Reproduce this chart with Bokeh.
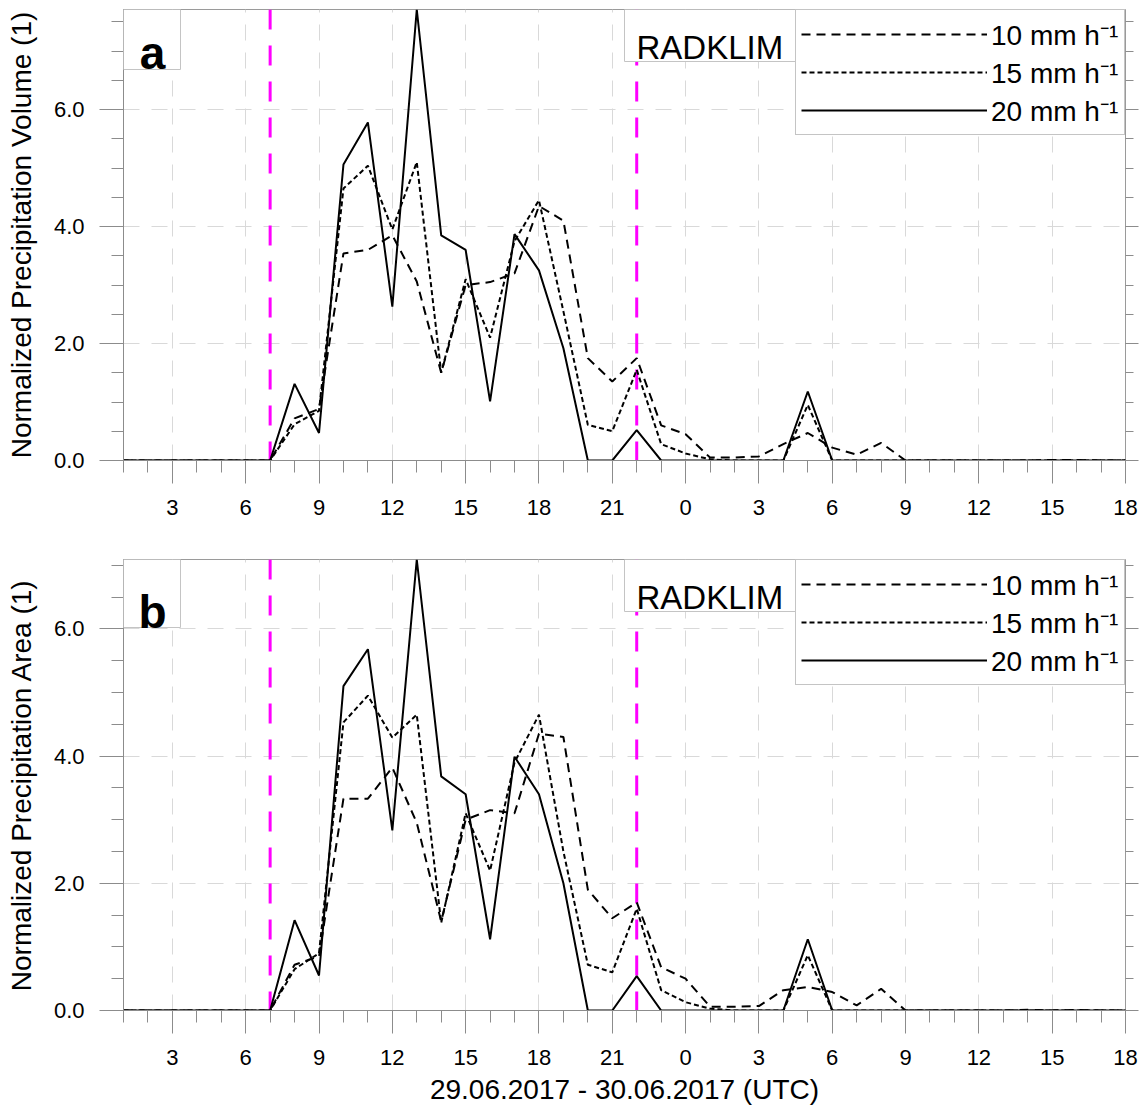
from bokeh.plotting import figure
from bokeh.models import (Range1d, FixedTicker, SingleIntervalTicker, LinearAxis, Span,
                          BoxAnnotation, Label, Legend, LegendItem, CustomJSTickFormatter,
                          PrintfTickFormatter)
from bokeh.layouts import column
from bokeh.embed import file_html
from bokeh.resources import INLINE

# ---------------- data ----------------
hours = list(range(1, 43))  # hours since 29.06.2017 00 UTC (24 = 30.06. 00 UTC)
tick_hours = [3, 6, 9, 12, 15, 18, 21, 24, 27, 30, 33, 36, 39, 42]
tick_labels = ["3", "6", "9", "12", "15", "18", "21", "0", "3", "6", "9", "12", "15", "18"]
event_hours = [7, 22]
series_names = ["10 mm h\u207b\u00b9", "15 mm h\u207b\u00b9", "20 mm h\u207b\u00b9"]
panel_letters = ["a", "b"]
panel_ylabels = ["Normalized Precipitation Volume (1)", "Normalized Precipitation Area (1)"]
source_name = "RADKLIM"
x_title = "29.06.2017 - 30.06.2017 (UTC)"

vol_10 = [0, 0, 0, 0, 0, 0, 0,
          0.72, 0.88, 3.54, 3.60, 3.85, 3.06, 1.50, 3.00, 3.05, 3.20, 4.35, 4.10, 1.75, 1.35, 1.75,
          0.60, 0.45, 0.05, 0.05, 0.07, 0.28, 0.47, 0.22, 0.10, 0.30, 0,
          0, 0, 0, 0, 0, 0.01, 0.01, 0, 0]
vol_15 = [0, 0, 0, 0, 0, 0, 0,
          0.62, 0.85, 4.65, 5.04, 3.95, 5.10, 1.50, 3.10, 2.10, 3.75, 4.45, 2.55, 0.61, 0.50, 1.55,
          0.28, 0.12, 0.02, 0, 0, 0, 0.95, 0, 0, 0, 0,
          0, 0, 0, 0, 0, 0, 0, 0, 0]
vol_20 = [0, 0, 0, 0, 0, 0, 0,
          1.31, 0.47, 5.06, 5.78, 2.63, 7.71, 3.85, 3.60, 1.01, 3.87, 3.25, 1.92, 0, 0, 0.52,
          0, 0, 0, 0, 0, 0, 1.18, 0, 0, 0, 0,
          0, 0, 0, 0, 0, 0, 0, 0, 0]

area_10 = [0, 0, 0, 0, 0, 0, 0,
           0.72, 0.85, 3.33, 3.33, 3.82, 2.95, 1.40, 3.00, 3.15, 3.10, 4.35, 4.30, 1.90, 1.45, 1.70,
           0.68, 0.50, 0.06, 0.06, 0.07, 0.32, 0.37, 0.29, 0.08, 0.34, 0,
           0, 0, 0, 0, 0.01, 0, 0.01, 0, 0]
area_15 = [0, 0, 0, 0, 0, 0, 0,
           0.65, 0.90, 4.53, 4.95, 4.29, 4.65, 1.38, 3.10, 2.20, 3.90, 4.65, 2.50, 0.72, 0.60, 1.60,
           0.32, 0.13, 0.03, 0, 0, 0, 0.87, 0, 0, 0, 0,
           0, 0, 0, 0, 0, 0, 0, 0, 0]
area_20 = [0, 0, 0, 0, 0, 0, 0,
           1.42, 0.55, 5.10, 5.68, 2.83, 7.09, 3.68, 3.40, 1.12, 3.99, 3.40, 2.00, 0, 0, 0.54,
           0, 0, 0, 0, 0, 0, 1.12, 0, 0, 0, 0,
           0, 0, 0, 0, 0, 0, 0, 0, 0]

# ---------------- style ----------------
FONT = "Liberation Sans"
W = 1145
FH = 451
GRAY = "#8c8c8c"
BOXLINE = "#c4c4c4"
dashes = ["9 6", "5 3", "solid"]


def make_panel(idx, s10, s15, s20, b_top, b_bottom, with_xtitle):
    ymax = max(s10 + s15 + s20)
    p = figure(width=W, height=b_top + FH + b_bottom,
               x_range=Range1d(hours[0], hours[-1]), y_range=Range1d(0, ymax),
               output_backend="svg", toolbar_location=None,
               min_border_left=123, min_border_right=20,
               min_border_top=b_top, min_border_bottom=b_bottom)
    p.outline_line_color = "#9a9a9a"
    p.background_fill_color = "white"

    # x axis
    xa = p.xaxis[0]
    xa.ticker = FixedTicker(ticks=tick_hours, minor_ticks=hours)
    xa.major_label_overrides = {h: lab for h, lab in zip(tick_hours, tick_labels)}
    xa.major_tick_out = 23
    xa.major_tick_in = 0
    xa.minor_tick_out = 12
    xa.minor_tick_in = 0
    xa.major_label_standoff = 16
    xa.major_label_text_font = FONT
    xa.major_label_text_font_size = "22px"
    xa.major_label_text_color = "black"
    xa.axis_line_color = GRAY
    xa.major_tick_line_color = GRAY
    xa.minor_tick_line_color = GRAY
    if with_xtitle:
        xa.axis_label = x_title
        xa.axis_label_text_font = FONT
        xa.axis_label_text_font_size = "28px"
        xa.axis_label_text_font_style = "normal"
        xa.axis_label_text_color = "black"
        xa.axis_label_standoff = 6

    # y axis
    ya = p.yaxis[0]
    ya.ticker = SingleIntervalTicker(interval=2, num_minor_ticks=4)
    ya.formatter = PrintfTickFormatter(format="%.1f")
    ya.major_tick_out = 24
    ya.major_tick_in = 0
    ya.minor_tick_out = 12
    ya.minor_tick_in = 0
    ya.major_label_standoff = 15
    ya.major_label_text_font = FONT
    ya.major_label_text_font_size = "22px"
    ya.major_label_text_color = "black"
    ya.axis_line_color = GRAY
    ya.major_tick_line_color = GRAY
    ya.minor_tick_line_color = GRAY
    ya.axis_label = panel_ylabels[idx]
    ya.axis_label_text_font = FONT
    ya.axis_label_text_font_size = "28px"
    ya.axis_label_text_font_style = "normal"
    ya.axis_label_text_color = "black"
    ya.axis_label_standoff = 14

    ra = LinearAxis(ticker=SingleIntervalTicker(interval=2, num_minor_ticks=4),
                    formatter=CustomJSTickFormatter(code="return ''"),
                    major_tick_out=13, major_tick_in=0, minor_tick_out=8, minor_tick_in=0,
                    major_label_standoff=0, axis_line_color=None,
                    major_tick_line_color=GRAY, minor_tick_line_color=GRAY)
    p.add_layout(ra, "right")

    # grids
    for g in (p.xgrid[0], p.ygrid[0]):
        g.grid_line_color = "#d9d9d9"
        g.grid_line_dash = "16 12"
        g.grid_line_width = 1

    # event markers
    for h in event_hours:
        p.add_layout(Span(location=h, dimension="height", line_color="#ff00ff",
                          line_width=3, line_dash="20 16", level="underlay"))

    # data lines
    rends = []
    for s, d in zip((s10, s15, s20), dashes):
        rends.append(p.line(hours, s, line_color="black", line_width=2, line_dash=d))

    # panel letter box
    box_h = 60 if idx == 0 else 68
    base = 43 if idx == 0 else 52
    p.add_layout(BoxAnnotation(left=0, right=57, top=FH, bottom=FH - box_h,
                               left_units="screen", right_units="screen",
                               top_units="screen", bottom_units="screen",
                               fill_color="white", fill_alpha=1,
                               line_color=BOXLINE, line_alpha=1, line_width=1))
    p.add_layout(Label(x=29, y=FH - base, x_units="screen", y_units="screen",
                       text=panel_letters[idx], text_font=FONT, text_font_style="bold",
                       text_font_size="46px", text_align="center",
                       text_baseline="alphabetic", text_color="black"))

    # source box
    p.add_layout(BoxAnnotation(left=501, right=672, top=FH, bottom=FH - 52,
                               left_units="screen", right_units="screen",
                               top_units="screen", bottom_units="screen",
                               fill_color="white", fill_alpha=1,
                               line_color=BOXLINE, line_alpha=1, line_width=1))
    p.add_layout(Label(x=513, y=FH - 38, x_units="screen", y_units="screen",
                       text=source_name, text_font=FONT, text_font_size="33px",
                       text_align="left", text_baseline="alphabetic", text_color="black"))

    # legend
    legend = Legend(items=[LegendItem(label=n, renderers=[r]) for n, r in zip(series_names, rends)],
                    location="top_right", margin=0, padding=5, spacing=0,
                    glyph_width=186, glyph_height=28, label_height=28, label_width=128,
                    label_standoff=4, label_text_font=FONT, label_text_font_size="28px",
                    label_text_color="black",
                    border_line_color=BOXLINE, border_line_width=1, border_line_alpha=1,
                    background_fill_color="white", background_fill_alpha=1)
    p.add_layout(legend)
    return p


pa = make_panel(0, vol_10, vol_15, vol_20, 9, 70, False)
pb = make_panel(1, area_10, area_15, area_20, 29, 102, True)

layout = column(pa, pb)
open("out.html", "w").write(file_html(layout, INLINE))
